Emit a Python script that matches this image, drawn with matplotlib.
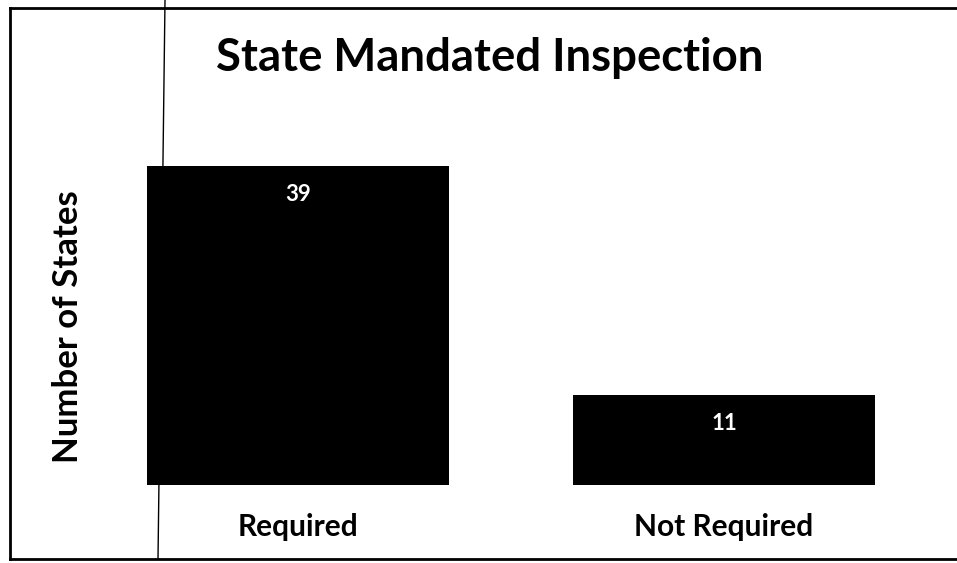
import matplotlib
matplotlib.use("Agg")
import matplotlib.pyplot as plt
from matplotlib.lines import Line2D

plt.rcParams["font.family"] = ["Lato", "DejaVu Sans"]

# donnees
categories = ["Required", "Not Required"]
nb_etats = [39, 11]
titre = "State Mandated Inspection"
label_y = "Number of States"

W, H = 957, 563
fig = plt.figure(figsize=(W / 100, H / 100), dpi=100)

# axes places en pixels (baseline a y=485, echelle ~8.18 px par etat)
ax = fig.add_axes([85 / W, (H - 485) / H, 852 / W, 368 / H])
ax.set_xlim(-0.5, 1.5)
ax.set_ylim(0, 45)
ax.axis("off")

x = list(range(len(categories)))
ax.bar(x, nb_etats, width=0.71, color="black", zorder=3)

for xi, v in zip(x, nb_etats):
    ax.text(xi, v - 3.5, str(v), color="white", fontsize=16, fontweight="bold",
            ha="center", va="center", zorder=4)

for xi, cat in zip(x, categories):
    ax.text(xi, -0.114, cat, transform=ax.get_xaxis_transform(),
            fontsize=21.5, fontweight="bold", ha="center", va="center")

fig.text(490 / W, 1 - 58 / H, titre, fontsize=32.8, fontweight="bold",
         ha="center", va="center")
fig.text(68 / W, 1 - 327 / H, label_y, fontsize=25, fontweight="bold",
         rotation=90, ha="center", va="center")

# cadre et trait vertical (scan)
def px(xp, yp):
    return xp / W, 1 - yp / H

for (x0, y0), (x1, y1), lw in [((10, 8), (W + 5, 8), 2.0),
                               ((10, 8), (10, 559), 2.0),
                               ((10, 559), (W + 5, 559), 2.0),
                               ((165, 0), (158, 559), 1.0)]:
    a, b = px(x0, y0)
    c, d = px(x1, y1)
    fig.add_artist(Line2D([a, c], [b, d], color="black", linewidth=lw, zorder=1))

fig.savefig("out.png", dpi=100)
